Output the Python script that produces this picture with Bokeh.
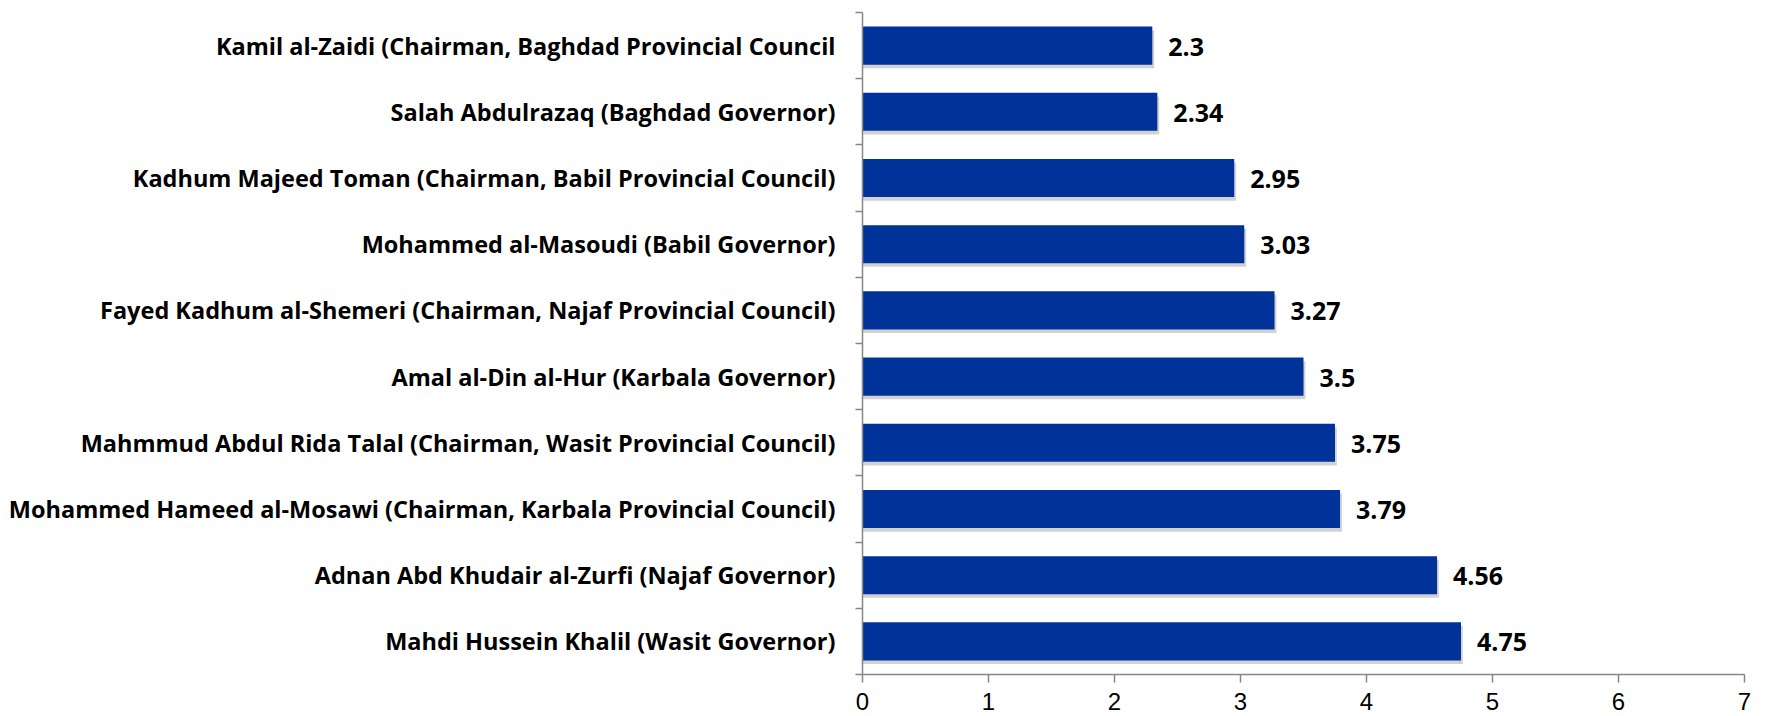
from bokeh.plotting import figure
from bokeh.models import Range1d, FixedTicker, ColumnDataSource
from bokeh.core.properties import value
from bokeh.embed import file_html
from bokeh.resources import INLINE

names = [
    "Kamil al-Zaidi (Chairman, Baghdad Provincial Council",
    "Salah Abdulrazaq (Baghdad Governor)",
    "Kadhum Majeed Toman (Chairman, Babil Provincial Council)",
    "Mohammed al-Masoudi (Babil Governor)",
    "Fayed Kadhum al-Shemeri (Chairman, Najaf Provincial Council)",
    "Amal al-Din al-Hur (Karbala Governor)",
    "Mahmmud Abdul Rida Talal (Chairman, Wasit Provincial Council)",
    "Mohammed Hameed al-Mosawi (Chairman, Karbala Provincial Council)",
    "Adnan Abd Khudair al-Zurfi (Najaf Governor)",
    "Mahdi Hussein Khalil (Wasit Governor)",
]
scores = [2.3, 2.34, 2.95, 3.03, 3.27, 3.5, 3.75, 3.79, 4.56, 4.75]
x_ticks = [0, 1, 2, 3, 4, 5, 6, 7]

n = len(names)
ypos = [i + 0.5 for i in range(n)]
labels = [str(v) for v in scores]

src = ColumnDataSource(dict(y=ypos, v=scores, lab=labels,
                            ys=[y + 0.055 for y in ypos],
                            vs=[v + 0.015 for v in scores]))

p = figure(width=1752, height=716, output_backend="svg", toolbar_location=None,
           x_range=Range1d(0, 7), y_range=Range1d(n, 0),
           min_border_left=862, min_border_right=8, min_border_top=12,
           min_border_bottom=42)
p.outline_line_color = None
p.xgrid.grid_line_color = None
p.ygrid.grid_line_color = None
p.background_fill_color = "white"
p.border_fill_color = "white"

# soft shadow
p.hbar(y="ys", right="vs", left=0, height=0.575, source=src,
       fill_color="#7f7f7f", fill_alpha=0.35, line_color=None)
p.hbar(y="y", right="v", left=0, height=0.575, source=src,
       fill_color="#00339A", line_color=None)

p.text(x="v", y="y", text="lab", source=src, x_offset=16, y_offset=1,
       text_font=value("Open Sans"), text_font_style="bold",
       text_font_size="25px", text_color="black",
       text_align="left", text_baseline="middle")

xa = p.xaxis[0]
xa.ticker = FixedTicker(ticks=x_ticks)
xa.axis_line_color = "#868686"
xa.axis_line_width = 1.5
xa.major_tick_line_color = "#868686"
xa.major_tick_line_width = 1.5
xa.major_tick_in = 0
xa.major_tick_out = 8
xa.minor_tick_line_color = None
xa.major_label_text_font = "Liberation Sans"
xa.major_label_text_font_size = "24px"
xa.major_label_text_color = "black"
xa.major_label_standoff = 10

ya = p.yaxis[0]
ya.ticker = FixedTicker(ticks=ypos, minor_ticks=list(range(n + 1)))
ya.major_label_overrides = {y: nm for y, nm in zip(ypos, names)}
ya.axis_line_color = "#868686"
ya.axis_line_width = 1.5
ya.major_tick_line_color = None
ya.minor_tick_line_color = "#868686"
ya.minor_tick_line_width = 1.5
ya.minor_tick_in = 0
ya.minor_tick_out = 7
ya.major_label_text_font = "Open Sans"
ya.major_label_text_font_style = "bold"
ya.major_label_text_font_size = "23.5px"
ya.major_label_text_color = "black"
ya.major_label_standoff = 20

open("out.html", "w").write(file_html(p, INLINE))
